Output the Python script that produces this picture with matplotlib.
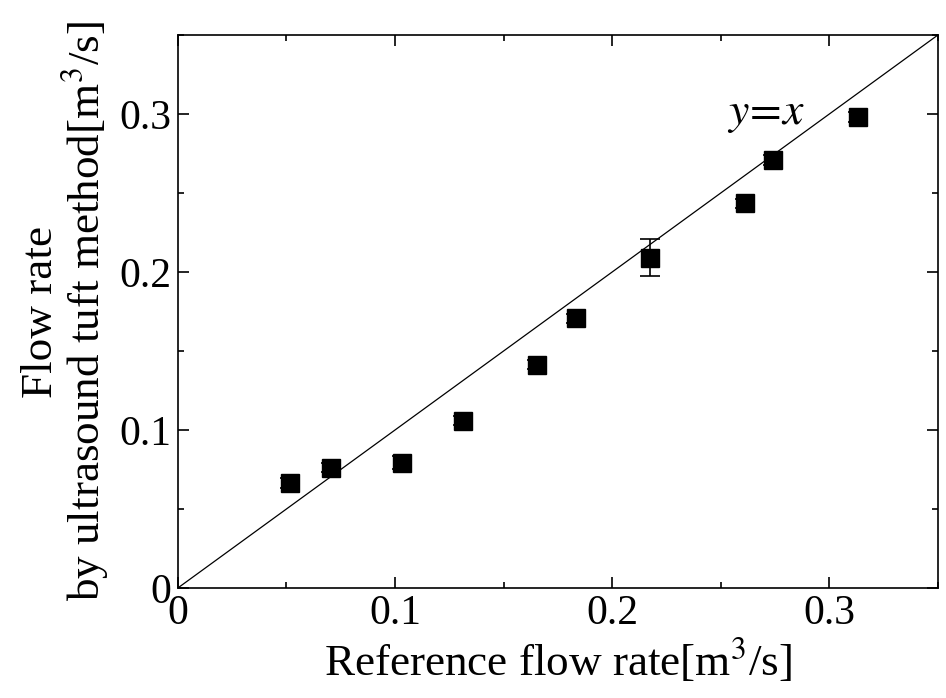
import numpy as np
import matplotlib
matplotlib.use('Agg')
from matplotlib import pyplot as plt
from matplotlib.ticker import MultipleLocator

plt.rcParams['font.family'] = ['Liberation Serif', 'DejaVu Serif']
plt.rcParams['mathtext.fontset'] = 'stix'

# data
ref_flow = [0.0515, 0.0703, 0.1034, 0.1315, 0.1655, 0.1834, 0.2175, 0.2611, 0.2740, 0.3131]
tuft_flow = [0.0666, 0.0761, 0.0793, 0.1059, 0.1414, 0.1706, 0.2090, 0.2435, 0.2708, 0.2980]
tuft_err = [0.003, 0.003, 0.004, 0.003, 0.003, 0.003, 0.0118, 0.003, 0.003, 0.003]
line_x = [0, 0.35]

fig = plt.figure(figsize=(9.46, 6.98), dpi=100)
ax = fig.add_axes([0.188, 0.1576, 0.8035, 0.7923])

ax.plot(line_x, line_x, color='black', lw=0.9)
ax.errorbar(ref_flow, tuft_flow, yerr=tuft_err, fmt='s', color='black',
            markersize=13.5, capsize=7, elinewidth=1.2, capthick=1.2)

ax.text(0.2705, 0.300, r'$y\!=\!x$', fontsize=33, ha='center', va='center')

ax.set_xlim(0, 0.35)
ax.set_ylim(0, 0.35)
ax.xaxis.set_major_locator(MultipleLocator(0.1))
ax.xaxis.set_minor_locator(MultipleLocator(0.05))
ax.yaxis.set_major_locator(MultipleLocator(0.1))
ax.yaxis.set_minor_locator(MultipleLocator(0.05))

def fmt(v, pos):
    return '0' if abs(v) < 1e-9 else f'{v:.1f}'

ax.xaxis.set_major_formatter(fmt)
ax.yaxis.set_major_formatter(fmt)

ax.tick_params(which='both', direction='in', top=True, right=True, labelsize=30, width=1.2)
ax.tick_params(which='major', length=8, pad=5)
ax.tick_params(which='minor', length=4)
for s in ax.spines.values():
    s.set_linewidth(1.2)

ax.set_xlabel('Reference flow rate[m$^3$/s]', fontsize=32.5, labelpad=2)
ax.set_ylabel('Flow rate\nby ultrasound tuft method[m$^3$/s]', fontsize=32.5, labelpad=6, linespacing=0.95)

fig.savefig('out.png', dpi=100)
